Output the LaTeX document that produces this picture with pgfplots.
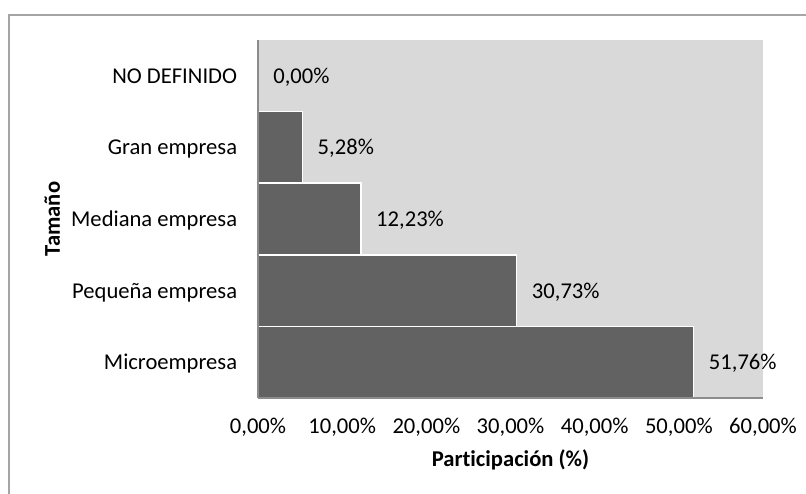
\documentclass[border=0pt]{standalone}
\usepackage{fontspec}
\setmainfont{Carlito}[Ligatures=CommonOff]
\usepackage{pgfplots}
\pgfplotsset{compat=1.18}

\definecolor{barfill}{RGB}{98,98,98}
\definecolor{plotbg}{RGB}{217,217,217}
\definecolor{framegray}{RGB}{165,165,165}
\definecolor{axisgray}{RGB}{140,140,140}

\newcommand{\chartfont}{\fontsize{11.3pt}{13.6pt}\selectfont}

\begin{document}
\begin{tikzpicture}[font=\chartfont]
\useasboundingbox (0,0) rectangle (403pt,246.5pt);
% chart frame
\draw[framegray, line width=0.9pt] (4.5pt,-2pt) -- (4.5pt,239pt) -- (406pt,239pt);
\begin{axis}[
  at={(129pt,47.5pt)}, anchor=south west,
  scale only axis, width=252.5pt, height=179pt,
  xbar, bar width=1, bar shift=0pt,
  xmin=0, xmax=60, ymin=-0.5, ymax=4.5,
  axis background/.style={fill=plotbg},
  axis x line*=bottom, axis y line*=left,
  axis line style={axisgray, line width=0.6pt, -},
  axis on top,
  xtick={0,10,...,60}, ytick={0,...,4},
  yticklabels={Microempresa, Pequeña empresa, Mediana empresa, Gran empresa, NO DEFINIDO},
  major tick length=0pt,
  xticklabel={\pgfmathprintnumber[fixed,fixed zerofill,precision=2,use comma,assume math mode=true]{\tick}\%},
  xticklabel style={anchor=base, inner sep=0pt, yshift=-17.5pt},
  yticklabel style={anchor=base east, inner sep=0pt, xshift=-10.25pt, yshift=-3.7pt},
  every axis x label/.style={at={(axis description cs:0.5,-0.1927)}, anchor=base, inner sep=0pt, font=\chartfont\bfseries},
  every axis y label/.style={at={(axis description cs:-0.3921,0.5)}, anchor=base, rotate=90, inner sep=0pt, font=\chartfont\bfseries},
  xlabel={Participación (\%)},
  ylabel={Tamaño},
  point meta=x,
  nodes near coords={\pgfmathprintnumber[fixed,fixed zerofill,precision=2,use comma,assume math mode=true]{\pgfplotspointmeta}\%},
  nodes near coords style={anchor=base west, inner sep=0pt, xshift=7.25pt, yshift=-3.7pt, black},
]
\addplot[fill=barfill, draw=white, line width=0.8pt]
  coordinates {(51.76,0) (30.73,1) (12.23,2) (5.28,3) (0,4)};
\end{axis}
\end{tikzpicture}
\end{document}
